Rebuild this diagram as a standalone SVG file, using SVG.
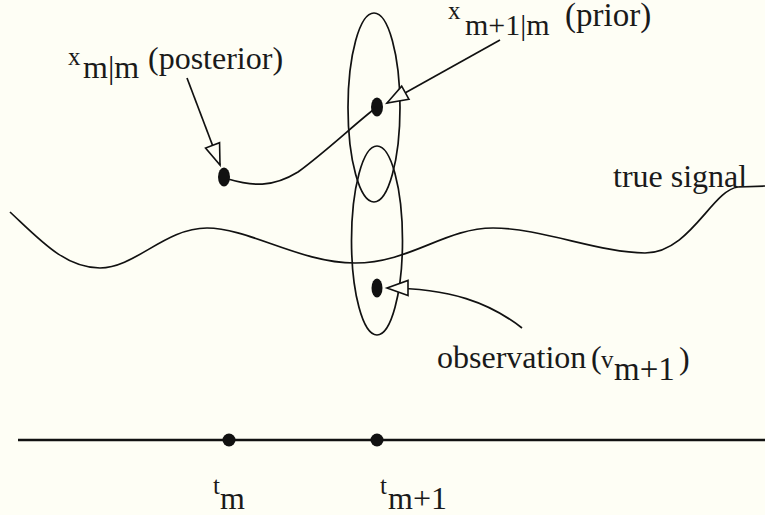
<svg xmlns="http://www.w3.org/2000/svg" width="765" height="515" viewBox="0 0 765 515">
  <style>
    .ln { fill: none; stroke: #111; stroke-width: 1.7; }
    .ax { fill: none; stroke: #111; stroke-width: 2.4; }
    .dot { fill: #111; }
    text { fill: #1a1a1a; }
    .big { font-size: 32px; }
    .sym { font-size: 25px; }
  </style>
  <defs>
    <marker id="open" markerUnits="userSpaceOnUse" viewBox="-2 -2 26 19" refX="21" refY="7.5" markerWidth="26" markerHeight="19" orient="auto" overflow="visible">
      <path d="M0,0 L21,7.5 L0,15 Z" fill="#fefef5" stroke="#111" stroke-width="1.6" stroke-linejoin="miter"/>
    </marker>
  </defs>
  <rect width="765" height="515" fill="#fefef5"/>

  <g id="time-axis">
    <line class="ax" x1="18" y1="440" x2="765" y2="440"/>
    <circle class="dot" cx="229" cy="440" r="6.5"/>
    <circle class="dot" cx="377" cy="440" r="6.5"/>
  </g>

  <g font-family="'Liberation Serif', 'Times New Roman', Times, serif">
  <g id="true-signal">
    <path class="ln" d="M10,212 C40,240 65,268 100,268 S165,228 207,228 S300,263 355,263 S445,228 493,228 S600,253 645,253 S712,190 738,187 L765,186"/>
    <text class="big" x="613" y="187">true signal</text>
  </g>

  <g id="prior-ellipse">
    <ellipse class="ln" cx="374" cy="107.5" rx="26" ry="94.5"/>
  </g>
  <g id="observation-ellipse">
    <ellipse class="ln" cx="377" cy="240.5" rx="25.5" ry="94.5"/>
  </g>

  <g id="posterior">
    <ellipse class="dot" cx="224" cy="177" rx="6" ry="9.5"/>
    <text class="sym" x="68" y="65">x</text>
    <text class="big" x="83" y="78">m|m</text>
    <text class="big" x="148" y="69">(posterior)</text>
  </g>

  <g id="prior">
    <ellipse class="dot" cx="377" cy="107" rx="6" ry="9.5"/>
    <text class="sym" x="448" y="19">x</text>
    <text x="465" y="35" font-size="30">m+1|m</text>
    <text x="565" y="26" font-size="33">(prior)</text>
  </g>

  <g id="observation">
    <ellipse class="dot" cx="377" cy="288" rx="5.5" ry="9.5"/>
    <text class="big" x="437" y="368">observation</text>
    <text class="big" x="591" y="368">(</text>
    <text class="sym" x="601" y="368">v</text>
    <text x="614" y="380" font-size="33">m+1</text>
    <text class="big" x="679" y="369">)</text>
  </g>

  <g id="tm">
    <text class="sym" x="213" y="494">t</text>
    <text class="big" x="220" y="509">m</text>
  </g>
  <g id="tm1">
    <text class="sym" x="380" y="494">t</text>
    <text class="big" x="388" y="509">m+1</text>
  </g>
  </g>

  <g id="connectors">
    <path class="ln" d="M228,179 C252,186 272,188 298,172 C328,150 358,121 377,107"/>
    <line class="ln" x1="187" y1="78" x2="220" y2="165" marker-end="url(#open)"/>
    <line class="ln" x1="500" y1="40" x2="387" y2="103" marker-end="url(#open)"/>
    <path class="ln" d="M522,328 C490,303 450,288 387,288" marker-end="url(#open)"/>
  </g>
</svg>
